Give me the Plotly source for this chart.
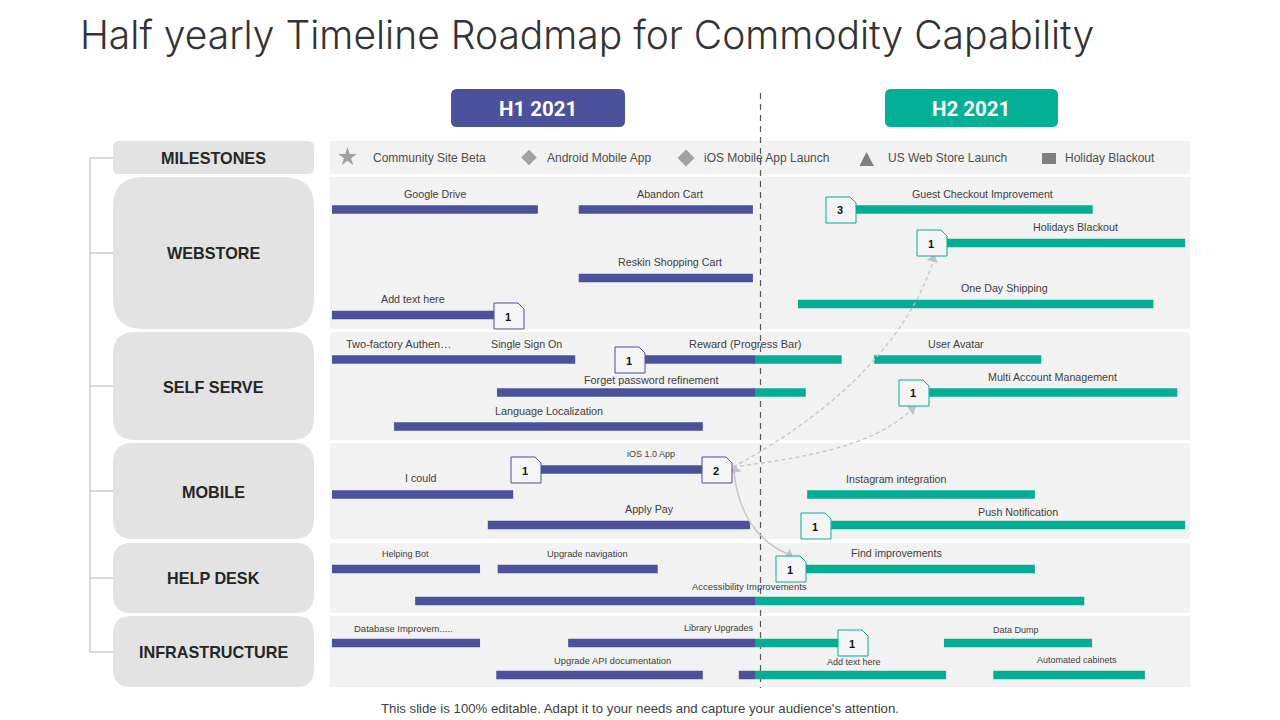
import plotly.graph_objects as go

# ---------- chart data ----------
PURPLE = "#4b519b"
TEAL = "#06ad95"
MONTH_PX = 70.5      # timeline scale
ORIGIN_PX = 332

h1_tasks = ["Google Drive", "Abandon Cart", "Reskin Shopping Cart", "Add text here",
            "Two-factor", "Reward H1", "Forget password H1", "Language Localization",
            "iOS 1.0 App", "I could", "Apply Pay", "Helping Bot", "Upgrade navigation",
            "Accessibility H1", "Database", "Library H1", "Upgrade API", "Add text H1"]
h1_start = [0.00, 3.50, 3.50, 0.00, 0.00, 4.44, 2.34, 0.88, 2.96, 0.00, 2.21, 0.00, 2.35, 1.18, 0.00, 3.35, 2.33, 5.77]
h1_end = [2.92, 5.97, 5.97, 2.30, 3.45, 6.00, 6.00, 5.26, 5.25, 2.57, 5.93, 2.10, 4.62, 6.00, 2.10, 6.00, 5.26, 6.00]
h1_lane = [209.5, 209.5, 278, 315, 359.5, 359.5, 392.5, 426.5, 469.5, 494.5, 525, 569, 569, 601, 643, 643, 675, 675]

h2_tasks = ["Guest Checkout", "Holidays Blackout", "One Day Shipping", "Reward H2", "User Avatar",
            "Forget password H2", "Multi Account", "Instagram", "Push Notification", "Find improvements",
            "Accessibility H2", "Library H2", "Data Dump", "Add text H2", "Automated cabinets"]
h2_start = [7.42, 8.72, 6.61, 6.00, 7.69, 6.00, 8.47, 6.74, 7.08, 6.72, 6.00, 6.00, 8.68, 6.00, 9.38]
h2_end = [10.79, 12.10, 11.65, 7.23, 10.06, 6.72, 11.99, 9.97, 12.10, 9.97, 10.67, 7.18, 10.78, 8.71, 11.53]
h2_lane = [209.5, 243, 304, 359.5, 359.5, 392.5, 392.5, 494.5, 525, 569, 601, 643, 643, 675, 675]

categories = ["MILESTONES", "WEBSTORE", "SELF SERVE", "MOBILE", "HELP DESK", "INFRASTRUCTURE"]
cat_top = [141, 177, 332, 443, 543, 616]
cat_bottom = [174, 329, 440, 539, 613, 687]
cat_radius = [6, 30, 22, 20, 18, 18]
cat_tick = [158, 253, 386, 491, 578, 652]
cat_label_y = [157.5, 253, 387, 491.5, 578, 652]

milestones = ["Community Site Beta", "Android Mobile App", "iOS Mobile App Launch"]
milestone_symbol = ["star", "diamond", "diamond"]
milestone_size = [14, 12, 13]
milestone_marker_x = [347.5, 529, 686]
milestone_marker_y = [157, 157.5, 158]
milestone_label_x = [371.5, 545.5, 702.5]
store_label = "US Web Store Launch"
store_label_x = 886.5
blackout_label = "Holiday Blackout"
blackout_label_x = 1063.5

task_labels = [
    ("Google Drive", 435, 194, 10.7), ("Abandon Cart", 670, 194, 10.7),
    ("Guest Checkout Improvement", 982, 194, 10.6), ("Holidays Blackout", 1075, 227, 10.7),
    ("Reskin Shopping Cart", 670, 262, 10.7), ("One Day Shipping", 1004, 288, 10.7),
    ("Add text here", 413, 299, 10.7), ("Two-factory Authen…", 398, 344, 11),
    ("Single Sign On", 526, 344, 10.7), ("Reward (Progress Bar)", 745, 344, 11),
    ("User Avatar", 956, 344, 10.7), ("Forget password refinement", 651, 380, 10.8),
    ("Multi Account Management", 1052, 377, 10.7), ("Language Localization", 549, 411, 10.8),
    ("iOS 1.0 App", 651, 454, 9), ("I could", 421, 478, 10.7),
    ("Instagram integration", 896, 479, 10.7), ("Apply Pay", 649, 509, 10.7),
    ("Push Notification", 1018, 512, 10.7), ("Helping Bot", 405, 554, 9),
    ("Upgrade navigation", 587, 554, 9.3), ("Find improvements", 896, 553, 10.7),
    ("Accessibility Improvements", 749, 586, 9.5), ("Database Improvem.....", 403, 628, 9.5),
    ("Library Upgrades", 719, 628, 9), ("Data Dump", 1016, 630, 9),
    ("Upgrade API documentation", 612, 660, 9.4), ("Add text here", 854, 662, 9),
    ("Automated cabinets", 1077, 660, 9),
]

# note badges: text, left, top, colour
badges = [
    ("1", 494, 303, PURPLE), ("3", 826, 197, TEAL), ("1", 917, 230, TEAL),
    ("1", 615, 347, PURPLE), ("1", 899, 380, TEAL), ("1", 511, 457, PURPLE),
    ("2", 702, 457, PURPLE), ("1", 801, 513, TEAL), ("1", 776, 556, TEAL),
    ("1", 838, 630, TEAL),
]

# ---------- helpers ----------
W, H = 1280, 720
LABEL_FONT = "Liberation Sans"
def fx(px): return px / W
def fy(py): return 1 - py / H

def round_rect(x0, y0, x1, y1, r, fill, layer="below"):
    X = lambda v: f"{fx(v):.5f}"
    Y = lambda v: f"{fy(v):.5f}"
    p = (f"M{X(x0+r)},{Y(y0)} L{X(x1-r)},{Y(y0)} Q{X(x1)},{Y(y0)} {X(x1)},{Y(y0+r)} "
         f"L{X(x1)},{Y(y1-r)} Q{X(x1)},{Y(y1)} {X(x1-r)},{Y(y1)} L{X(x0+r)},{Y(y1)} "
         f"Q{X(x0)},{Y(y1)} {X(x0)},{Y(y1-r)} L{X(x0)},{Y(y0+r)} Q{X(x0)},{Y(y0)} {X(x0+r)},{Y(y0)} Z")
    return dict(type="path", xref="paper", yref="paper", path=p, fillcolor=fill,
                line=dict(width=0), layer=layer)

def polygon(pts, fill, line_style=None, layer="above"):
    p = "M" + " L".join(f"{fx(a):.5f},{fy(b):.5f}" for a, b in pts) + " Z"
    return dict(type="path", xref="paper", yref="paper", path=p, fillcolor=fill,
                line=line_style or dict(width=0), layer=layer)

def line(x0, y0, x1, y1, color, width, dash="solid", layer="below"):
    return dict(type="line", xref="paper", yref="paper", x0=fx(x0), y0=fy(y0), x1=fx(x1), y1=fy(y1),
                line=dict(color=color, width=width, dash=dash), layer=layer)

def curve(x0, y0, cx1, cy1, cx2, cy2, x1, y1, dash, width=1.3):
    p = (f"M{fx(x0):.5f},{fy(y0):.5f} C{fx(cx1):.5f},{fy(cy1):.5f} {fx(cx2):.5f},{fy(cy2):.5f} "
         f"{fx(x1):.5f},{fy(y1):.5f}")
    return dict(type="path", xref="paper", yref="paper", path=p, fillcolor="rgba(0,0,0,0)",
                line=dict(color="#c4c4c4", width=width, dash=dash), layer="above")

def text(s, x, y, size, color="#404040", anchor="center", family=LABEL_FONT, weight=None):
    f = dict(size=size, color=color, family=family)
    if weight:
        f["weight"] = weight
    return dict(text=s, xref="paper", yref="paper", x=fx(x), y=fy(y), xanchor=anchor, yanchor="middle",
                showarrow=False, font=f, borderpad=0)

shapes, annots = [], []

# bracket
shapes.append(line(90, cat_tick[0], 90, cat_tick[-1], "#d9d9d9", 2))
for t in cat_tick:
    shapes.append(line(90, t, 113, t, "#d9d9d9", 2))

# lanes and category boxes
for c, t, b, r, ly in zip(categories, cat_top, cat_bottom, cat_radius, cat_label_y):
    shapes.append(round_rect(113, t, 314, b, r, "#e3e3e3"))
    shapes.append(round_rect(330, t, 1190, b, 2, "#f2f2f2"))
    annots.append(text(f"<b>{c}</b>", 213.5, ly, 16.2, "#262626"))

# divider
shapes.append(line(760.5, 93, 760.5, 688, "#595959", 1.2, "6px,5px"))

# period headers
shapes.append(round_rect(451, 89, 625, 127, 6, PURPLE))
shapes.append(round_rect(885, 89, 1058, 127, 6, "#03b096"))
annots.append(text("<b>H1 2021</b>", 538, 108.5, 20.5, "#ffffff", family="Roboto"))
annots.append(text("<b>H2 2021</b>", 971, 108.5, 20.5, "#ffffff", family="Roboto"))

# store launch and holiday blackout markers
shapes.append(polygon([(866.5, 152), (874, 166), (859.5, 166)], "#7f7f7f", layer="below"))
shapes.append(round_rect(1042, 153, 1056, 164, 0, "#7f7f7f"))

# connectors
shapes.append(curve(733, 467, 830, 415, 905, 345, 933, 262, "4px,3px"))
shapes.append(curve(733, 467, 800, 458, 870, 448, 910, 411, "4px,3px"))
shapes.append(curve(734, 472, 738, 510, 755, 540, 788, 554, "solid", 1.6))

# badges
for s, l, t, col in badges:
    w, h, cut = 30, 26, 6
    pts = [(l, t), (l + w - cut, t), (l + w, t + cut), (l + w, t + h), (l, t + h)]
    shapes.append(polygon(pts, "#f5f5f5", dict(color=col, width=1)))
    annots.append(text(f"<b>{s}</b>", l + 13.5, t + 13.5, 11, "#111111"))

for lab, x, y, sz in task_labels:
    annots.append(text(lab, x, y, sz))

for lab, x in zip(milestones + [store_label, blackout_label],
                  milestone_label_x + [store_label_x, blackout_label_x]):
    annots.append(text(lab, x, 157.5, 12, "#4d4d4d", anchor="left"))

annots.append(text("Half yearly Timeline Roadmap for Commodity Capability", 78.5, 34, 39, "#333333",
                   anchor="left", family="Inter", weight=300))
annots.append(text("This slide is 100% editable. Adapt it to your needs and capture your audience's attention.",
                   639.5, 708, 13.2, "#404040"))

# ---------- figure ----------
fig = go.Figure()
fig.add_trace(go.Bar(name="H1 2021", orientation="h", base=h1_start,
                     x=[e - s for s, e in zip(h1_start, h1_end)], y=h1_lane, width=8.5,
                     marker=dict(color=PURPLE, line=dict(width=0)), text=h1_tasks, textposition="none",
                     hoverinfo="text"))
fig.add_trace(go.Bar(name="H2 2021", orientation="h", base=h2_start,
                     x=[e - s for s, e in zip(h2_start, h2_end)], y=h2_lane, width=8.5,
                     marker=dict(color=TEAL, line=dict(width=0)), text=h2_tasks, textposition="none",
                     hoverinfo="text"))
fig.add_trace(go.Scatter(x=[(m - ORIGIN_PX) / MONTH_PX for m in milestone_marker_x], y=milestone_marker_y,
                         mode="markers", text=milestones, hoverinfo="text",
                         marker=dict(symbol=milestone_symbol, size=milestone_size, color="#7f7f7f",
                                     line=dict(width=0))))
# connector arrow heads
fig.add_trace(go.Scatter(x=[(v - ORIGIN_PX) / MONTH_PX for v in [933, 912, 735, 789]],
                         y=[259, 409, 470, 555], mode="markers", hoverinfo="skip",
                         marker=dict(symbol="triangle-up", size=10, color="#c4c4c4", angle=[15, 55, -10, 120],
                                     line=dict(width=0))))

fig.update_layout(
    width=W, height=H, margin=dict(l=0, r=0, t=0, b=0, pad=0), showlegend=False,
    paper_bgcolor="#ffffff", plot_bgcolor="rgba(0,0,0,0)", barmode="overlay",
    xaxis=dict(range=[(0 - ORIGIN_PX) / MONTH_PX, (W - ORIGIN_PX) / MONTH_PX], visible=False, fixedrange=True),
    yaxis=dict(range=[H, 0], visible=False, fixedrange=True),
    shapes=shapes, annotations=annots,
)
fig.write_html("out.html", config={"displayModeBar": False},
               post_script="document.body.style.margin='0';")
